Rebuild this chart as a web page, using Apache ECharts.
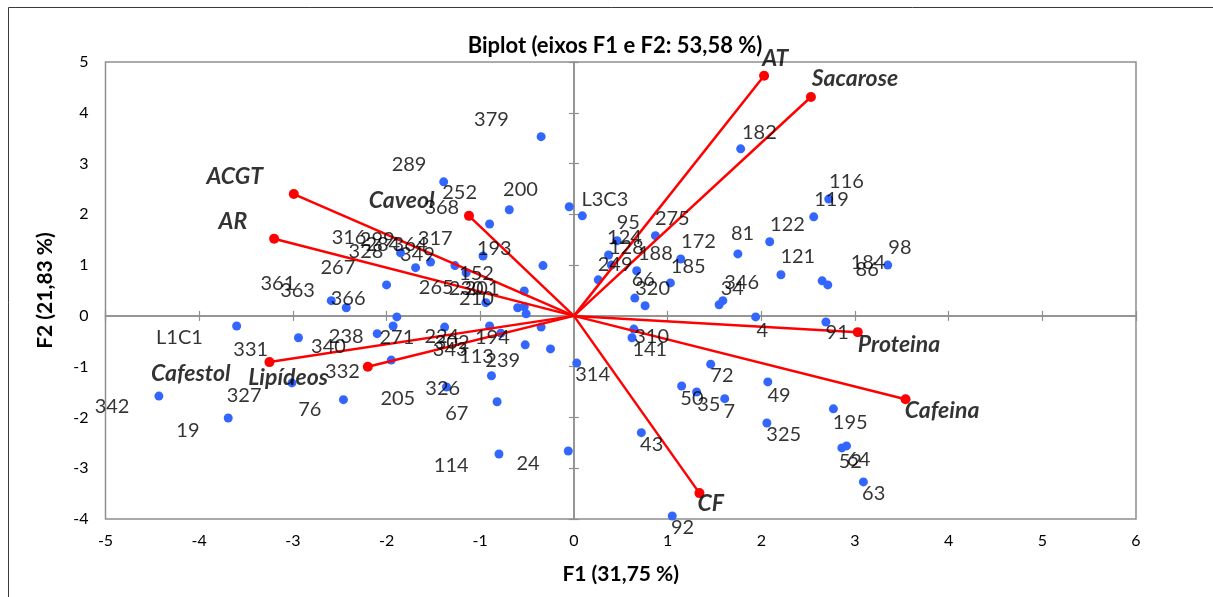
<!DOCTYPE html>
<html>
<head>
<meta charset="utf-8">
<script src="https://cdn.jsdelivr.net/npm/echarts/dist/echarts.min.js"></script>
<style>
html,body{margin:0;padding:0;background:#fff;}
#chart{width:1213px;height:597px;}
</style>
</head>
<body>
<div id="chart"></div>
<script>
// ---- data ----
const xRange = [-5, 6];
const yRange = [-4, 5];
const titleText = "Biplot (eixos F1 e F2: 53,58 %)";
const xTitle = "F1 (31,75 %)";
const yTitle = "F2 (21,83 %)";

// observations (blue points)
const obsF1 = [-0.35,-1.39,-0.90,-0.69,-0.05,0.09,-0.97,-0.33,-1.27,-1.15,
  -0.53,-0.60,-0.53,-0.51,-0.94,-1.69,-1.53,-1.85,-2.00,-1.89,
  -1.93,-0.90,-1.38,-0.52,-0.25,-0.35,-0.88,-1.95,0.26,0.65,
  0.76,1.03,0.67,0.64,0.62,0.87,0.46,0.37,0.40,1.14,
  1.78,2.72,2.56,2.09,1.75,2.21,3.35,2.65,2.71,1.59,
  1.55,1.94,2.69,1.46,1.15,1.31,1.61,2.07,2.06,2.77,
  2.86,2.91,3.09,1.05,-0.82,-1.36,-0.80,-0.06,0.72,0.03,
  -2.46,-3.60,-2.94,-2.59,-2.43,-2.10,-3.01,-4.43,-3.69,-0.78];
const obsF2 = [3.53,2.64,1.81,2.09,2.15,1.97,1.18,0.99,0.99,0.85,
  0.49,0.16,0.18,0.04,0.26,0.95,1.06,1.24,0.61,-0.02,
  -0.20,-0.20,-0.22,-0.57,-0.65,-0.22,-1.18,-0.87,0.71,0.35,
  0.20,0.65,0.89,-0.26,-0.43,1.58,1.48,1.20,1.00,1.12,
  3.29,2.30,1.95,1.46,1.22,0.81,1.00,0.69,0.61,0.30,
  0.22,-0.02,-0.12,-0.95,-1.38,-1.50,-1.63,-1.30,-2.11,-1.83,
  -2.60,-2.56,-3.27,-3.94,-1.69,-1.40,-2.72,-2.66,-2.30,-0.93,
  -1.65,-0.20,-0.43,0.30,0.16,-0.35,-1.32,-1.58,-2.01,-0.34];

// observation labels and where they sit (data units)
const obsNames = ["379","289","252","200","L3C3","368","193","152","265","230","201","210","317","349","364","284","316","299","328","267","361","363","366","L1C1","331","238","340","271","224","302","343","113","239","194","332","327","342","19","76","205","326","67","114","24","314","43","92","310","141","72","50","35","7","49","325","195","52","64","63","4","91","346","34","66","320","249","128","124","95","275","188","172","185","81","122","121","184","86","98","119","116","182"];
const obsNameF1 = [-0.88,-1.76,-1.22,-0.57,0.33,-1.41,-0.85,-1.04,-1.47,-1.15,-0.98,-1.04,-1.48,-1.67,-1.75,-2.04,-2.40,-2.10,-2.22,-2.52,-3.16,-2.95,-2.41,-4.21,-3.45,-2.43,-2.62,-1.89,-1.41,-1.30,-1.32,-1.04,-0.76,-0.87,-2.47,-3.52,-4.93,-4.12,-2.82,-1.88,-1.40,-1.25,-1.31,-0.49,0.20,0.83,1.16,0.83,0.81,1.58,1.26,1.44,1.66,2.19,2.24,2.95,2.95,3.04,3.20,2.01,2.81,1.79,1.69,0.74,0.84,0.44,0.56,0.54,0.58,1.05,0.87,1.33,1.22,1.80,2.28,2.39,3.14,3.13,3.48,2.75,2.91,1.98];
const obsNameF2 = [3.86,2.99,2.42,2.48,2.30,2.13,1.32,0.83,0.55,0.53,0.53,0.35,1.52,1.20,1.40,1.40,1.54,1.50,1.26,0.95,0.63,0.49,0.34,-0.43,-0.67,-0.41,-0.61,-0.43,-0.41,-0.53,-0.67,-0.81,-0.87,-0.43,-1.10,-1.56,-1.79,-2.25,-1.85,-1.62,-1.44,-1.93,-2.95,-2.90,-1.16,-2.54,-4.16,-0.41,-0.67,-1.18,-1.62,-1.75,-1.89,-1.56,-2.34,-2.11,-2.86,-2.82,-3.49,-0.28,-0.32,0.65,0.53,0.71,0.53,1.02,1.34,1.54,1.83,1.91,1.22,1.46,0.97,1.63,1.79,1.16,1.06,0.91,1.34,2.30,2.64,3.62];

// variables (red vectors)
const varNames = ["AT","Sacarose","ACGT","AR","Caveol","Proteina","Cafeina","CF","Cafestol","Lipídeos"];
const varF1 = [2.03,2.53,-2.99,-3.20,-1.12,3.03,3.54,1.34,-3.25,-2.20];
const varF2 = [4.73,4.31,2.40,1.52,1.97,-0.32,-1.64,-3.49,-0.91,-1.00];
const varNameF1 = [2.15,3.00,-3.62,-3.64,-1.84,3.47,3.93,1.46,-4.09,-3.05];
const varNameF2 = [5.06,4.67,2.74,1.85,2.28,-0.57,-1.87,-3.70,-1.14,-1.22];

// ---- chart ----
const FONT = 'Lato, "Open Sans", sans-serif';
const AXIS_GRAY = '#8f8f8f';

const pts = obsF1.map((x, i) => [x, obsF2[i]]);
const obsLabels = obsNames.map((n, i) => ({ name: n, value: [obsNameF1[i], obsNameF2[i]] }));
const vecLines = varNames.map((n, i) => ({ coords: [[0, 0], [varF1[i], varF2[i]]] }));
const vecEnds = varNames.map((n, i) => [varF1[i], varF2[i]]);
const vecLabels = varNames.map((n, i) => ({ name: n, value: [varNameF1[i], varNameF2[i]] }));

function zeroX(inside) {
  return {
    type: 'value', min: xRange[0], max: xRange[1], interval: 1, position: 'bottom',
    axisLine: { show: true, onZero: true, onZeroAxisIndex: 0, lineStyle: { color: AXIS_GRAY, width: 1.5 } },
    axisTick: { show: true, inside: inside, length: 5, lineStyle: { color: AXIS_GRAY, width: 1.2 } },
    axisLabel: { show: false }, splitLine: { show: false }
  };
}
function zeroY(inside) {
  return {
    type: 'value', min: yRange[0], max: yRange[1], interval: 1, position: 'left',
    axisLine: { show: true, onZero: true, onZeroAxisIndex: 0, lineStyle: { color: AXIS_GRAY, width: 1.5 } },
    axisTick: { show: true, inside: inside, length: 5, lineStyle: { color: AXIS_GRAY, width: 1.2 } },
    axisLabel: { show: false }, splitLine: { show: false }
  };
}

const chart = echarts.init(document.getElementById('chart'), null, { renderer: 'canvas' });
chart.setOption({
  animation: false,
  backgroundColor: '#ffffff',
  title: {
    text: titleText, left: 610, top: 30, textAlign: 'center',
    textStyle: { fontFamily: FONT, fontSize: 22, fontWeight: 'bold', color: '#000' }
  },
  graphic: [{
    type: 'rect', silent: true, z: -10,
    shape: { x: 8.5, y: 7.5, width: 1400, height: 800 },
    style: { fill: 'none', stroke: '#3a3a3a', lineWidth: 1 }
  }],
  grid: {
    left: 105.5, top: 62, right: 77, bottom: 78,
    show: true, borderColor: AXIS_GRAY, borderWidth: 1.5, backgroundColor: 'transparent',
    outerBoundsMode: 'none'
  },
  xAxis: [
    {
      type: 'value', min: xRange[0], max: xRange[1], interval: 1, position: 'bottom',
      axisLine: { show: false, onZero: false }, axisTick: { show: false }, splitLine: { show: false },
      axisLabel: { show: true, margin: 14, fontFamily: FONT, fontSize: 16, color: '#000' },
      name: xTitle, nameLocation: 'middle', nameGap: 45,
      nameTextStyle: { fontFamily: FONT, fontSize: 21, fontWeight: 'bold', color: '#000' }
    },
    zeroX(false), zeroX(true)
  ],
  yAxis: [
    {
      type: 'value', min: yRange[0], max: yRange[1], interval: 1, position: 'left',
      axisLine: { show: false, onZero: false }, axisTick: { show: false }, splitLine: { show: false },
      axisLabel: { show: true, margin: 17, fontFamily: FONT, fontSize: 16, color: '#000' },
      name: yTitle, nameLocation: 'middle', nameGap: 50, nameRotate: 90,
      nameTextStyle: { fontFamily: FONT, fontSize: 21, fontWeight: 'bold', color: '#000' }
    },
    zeroY(false), zeroY(true)
  ],
  series: [
    {
      type: 'scatter', name: 'obs', data: pts, symbol: 'circle', symbolSize: 9, z: 2,
      itemStyle: { color: '#3366ff', opacity: 1 }, silent: true
    },
    {
      type: 'lines', coordinateSystem: 'cartesian2d', data: vecLines, z: 3, silent: true,
      lineStyle: { color: '#ff0000', width: 2.5, opacity: 1, curveness: 0 }
    },
    {
      type: 'scatter', name: 'vecEnds', data: vecEnds, symbol: 'circle', symbolSize: 10, z: 4,
      itemStyle: { color: '#ff0000', opacity: 1 }, silent: true
    },
    {
      type: 'scatter', name: 'obsLabels', data: obsLabels, symbolSize: 1, z: 5, silent: true, clip: false,
      itemStyle: { color: 'rgba(0,0,0,0)' },
      label: { show: true, position: 'inside', formatter: '{b}', fontFamily: FONT, fontSize: 20, color: '#000' }
    },
    {
      type: 'scatter', name: 'vecLabels', data: vecLabels, symbolSize: 1, z: 5, silent: true, clip: false,
      itemStyle: { color: 'rgba(0,0,0,0)' },
      label: { show: true, position: 'inside', formatter: '{b}', fontFamily: FONT, fontSize: 23,
        fontWeight: 'bold', fontStyle: 'italic', color: '#000' }
    }
  ]
});
</script>
</body>
</html>
